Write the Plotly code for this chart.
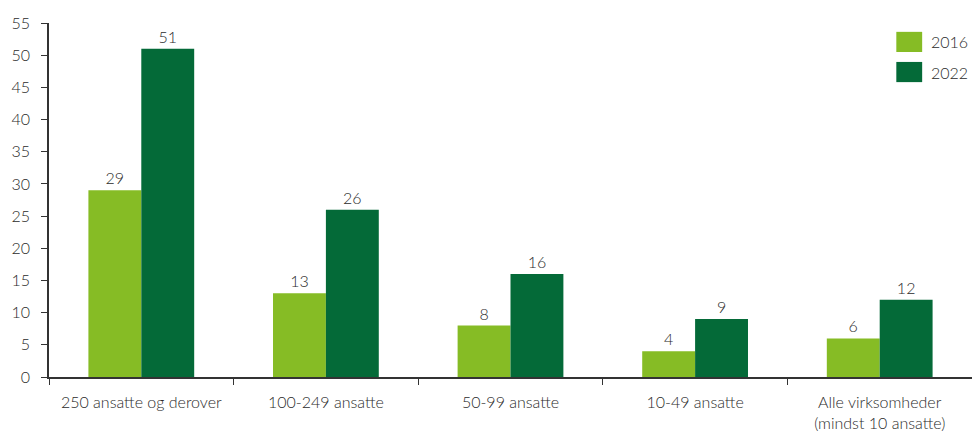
import plotly.graph_objects as go

categories = ["250 ansatte og derover", "100-249 ansatte", "50-99 ansatte",
              "10-49 ansatte", "Alle virksomheder<br>(mindst 10 ansatte)"]
years = ["2016", "2022"]
values_2016 = [29, 13, 8, 4, 6]
values_2022 = [51, 26, 16, 9, 12]
y_ticks = list(range(0, 56, 5))

colors = {"2016": "#86BC25", "2022": "#046A38"}
text_color = "#2B2B2B"
font_family = "Lato, 'Open Sans', sans-serif"
fs = 16
fw = 300

fig = go.Figure()
for year, vals in zip(years, [values_2016, values_2022]):
    fig.add_trace(go.Bar(
        x=categories, y=vals, name=year,
        marker=dict(color=colors[year], line=dict(width=0)),
        text=[str(v) for v in vals], textposition="outside",
        textfont=dict(size=fs, color=text_color, family=font_family, weight=fw),
        cliponaxis=False, showlegend=False,
    ))

# legend drawn as swatches with labels at the top right
for i, year in enumerate(years):
    y0 = 0.975 - i * 0.085
    fig.add_shape(type="rect", xref="paper", yref="paper",
                  x0=0.918, x1=0.946, y0=y0 - 0.057, y1=y0,
                  fillcolor=colors[year], line=dict(width=0))
    fig.add_annotation(xref="paper", yref="paper", x=0.953, y=y0 - 0.0285,
                       text=year, showarrow=False, xanchor="left", yanchor="middle",
                       font=dict(size=fs, color=text_color, family=font_family, weight=fw))

fig.update_layout(
    width=972, height=433,
    margin=dict(l=49, r=0, t=23, b=56),
    barmode="group", bargap=0.427, bargroupgap=0,
    plot_bgcolor="white", paper_bgcolor="white",
    font=dict(family=font_family, size=fs, color=text_color, weight=fw),
)
fig.update_xaxes(
    showline=True, linecolor="#333333", linewidth=1.5,
    ticks="outside", tickson="boundaries", ticklen=6, tickcolor="#333333",
    tickfont=dict(size=fs, color=text_color, weight=fw), range=[-0.5, 4.5],
    ticklabelstandoff=10,
)
fig.update_yaxes(
    range=[0, 55], tickvals=y_ticks, showgrid=False, zeroline=False,
    showline=True, linecolor="#333333", linewidth=1.5,
    ticks="outside", ticklen=6, tickcolor="#333333",
    tickfont=dict(size=fs, color=text_color, weight=fw),
    ticklabelstandoff=8,
)

fig.write_html("out.html")
